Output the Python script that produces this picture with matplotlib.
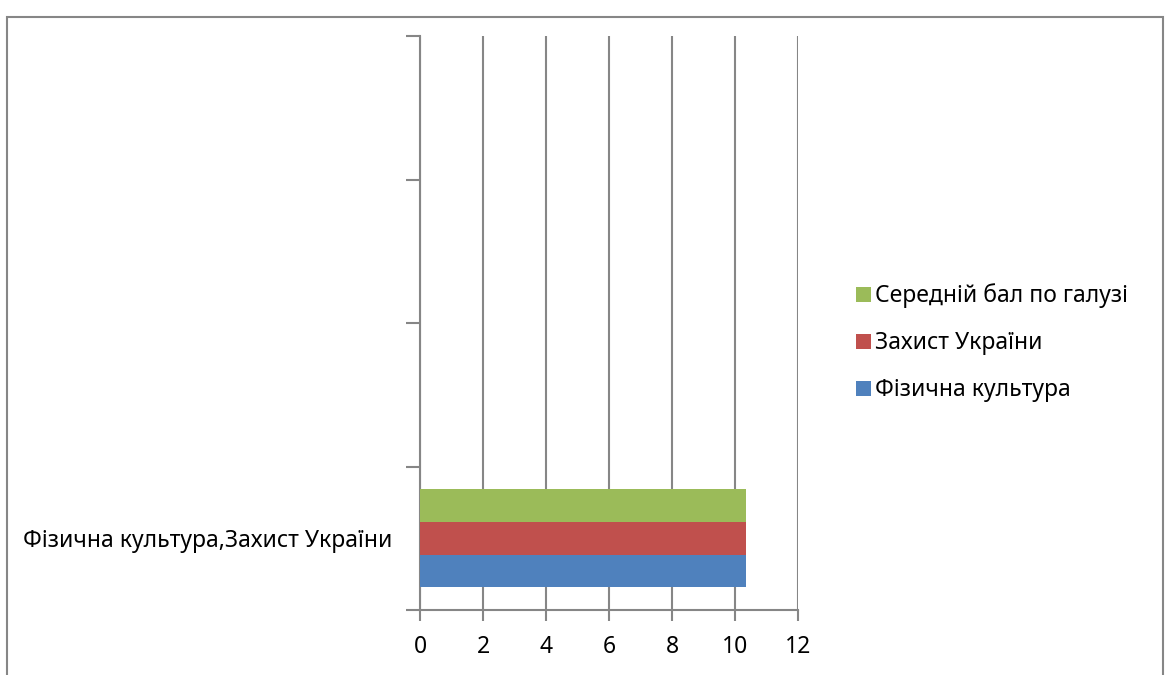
import matplotlib
matplotlib.use("Agg")
import matplotlib.pyplot as plt
from matplotlib.patches import Rectangle
import numpy as np

plt.rcParams["font.family"] = ["Noto Sans", "DejaVu Sans"]

# дані діаграми
categories = ["Фізична культура,Захист України", "", "", ""]
series_names = ["Фізична культура", "Захист України", "Середній бал по галузі"]
series_values = [
    [10.35, 0, 0, 0],
    [10.35, 0, 0, 0],
    [10.35, 0, 0, 0],
]
colors = ["#4f81bd", "#c0504d", "#9bbb59"]
x_ticks = [0, 2, 4, 6, 8, 10, 12]

fig = plt.figure(figsize=(11.68, 6.75), dpi=100)
ax = fig.add_axes([420 / 1168, 1 - 610 / 675, 378 / 1168, 574 / 675])

ypos = np.arange(len(categories))
bar_h = 0.227
for i, (name, vals) in enumerate(zip(series_names, series_values)):
    ax.barh(ypos + (i - 1) * bar_h, vals, height=bar_h, color=colors[i],
            label=name, zorder=3)

ax.set_xlim(0, 12)
ax.set_ylim(-0.5, len(categories) - 0.5)
ax.set_xticks(x_ticks)
ax.set_xticklabels([str(t) for t in x_ticks], fontsize=16.5)

# лінії поділу категорій - основні тики, підписи - допоміжні
ax.set_yticks(np.arange(-0.5, len(categories), 1.0))
ax.set_yticklabels([])
ax.set_yticks(ypos, minor=True)
ax.set_yticklabels(categories, minor=True, fontsize=16.5)
ax.tick_params(axis="y", which="minor", length=0, pad=20)
ax.tick_params(axis="y", which="major", length=10, width=1.5, color="#868686")
ax.tick_params(axis="x", length=8, width=1.5, color="#868686", pad=10)

ax.grid(axis="x", color="#868686", linewidth=1.5, zorder=0)
for s in ["top", "right"]:
    ax.spines[s].set_visible(False)
for s in ["left", "bottom"]:
    ax.spines[s].set_color("#868686")
    ax.spines[s].set_linewidth(1.5)

handles, labels = ax.get_legend_handles_labels()
fig.legend(handles[::-1], labels[::-1], loc="center left",
           bbox_to_anchor=(835 / 1168, 1 - 343 / 675), frameon=False,
           fontsize=16.5, handlelength=0.65, handleheight=0.65,
           handletextpad=0.2, labelspacing=1.0)

# рамка навколо діаграми
fig.patches.append(Rectangle((7 / 1168, -0.1), 1156 / 1168, 1.1 - 17 / 675,
                             transform=fig.transFigure, fill=False,
                             edgecolor="#868686", linewidth=1.5))

fig.savefig("out.png", dpi=100)
